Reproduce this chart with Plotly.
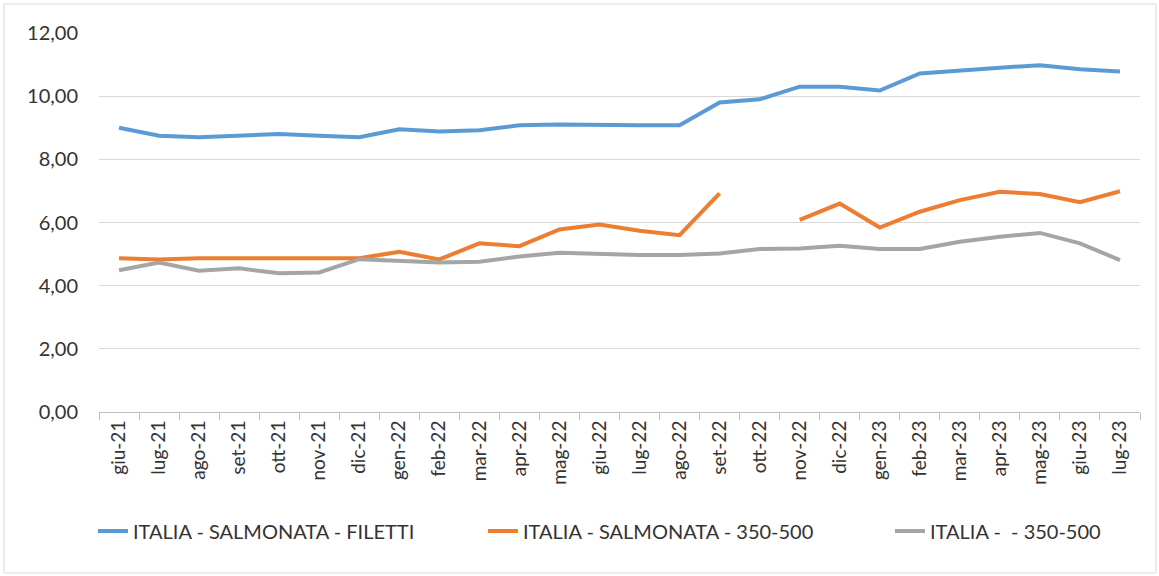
import plotly.graph_objects as go

months = ["giu-21","lug-21","ago-21","set-21","ott-21","nov-21","dic-21","gen-22","feb-22","mar-22",
          "apr-22","mag-22","giu-22","lug-22","ago-22","set-22","ott-22","nov-22","dic-22","gen-23",
          "feb-23","mar-23","apr-23","mag-23","giu-23","lug-23"]

filetti = [9.00, 8.75, 8.70, 8.75, 8.80, 8.75, 8.70, 8.95, 8.88, 8.92,
           9.08, 9.10, 9.08, 9.08, 9.08, 9.80, 9.90, 10.30, 10.30, 10.18,
           10.72, 10.82, 10.90, 10.98, 10.85, 10.78]

salmonata = [4.87, 4.83, 4.87, 4.87, 4.87, 4.84, 4.87, 5.07, 4.83, 5.34,
             5.25, 5.78, 5.94, 5.74, 5.60, 6.92, None, 6.08, 6.60, 5.84,
             6.34, 6.71, 6.97, 6.90, 6.64, 6.99]

trota = [4.49, 4.73, 4.47, 4.55, 4.39, 4.42, 4.84, 4.79, 4.73, 4.76,
         4.92, 5.04, 4.99, 4.97, 4.97, 5.02, 5.16, 5.18, 5.26, 5.16,
         5.16, 5.39, 5.55, 5.67, 5.34, 4.81]

names = ["ITALIA - SALMONATA - FILETTI", "ITALIA - SALMONATA - 350-500", "ITALIA -  - 350-500"]
colors = ["#5b9bd5", "#ed7d31", "#a5a5a5"]

FONT = "Lato, Liberation Sans, Arial, sans-serif"
TXT = "#333333"

fig = go.Figure()
for i, (vals, nm, col) in enumerate(zip([filetti, salmonata, trota], names, colors)):
    fig.add_trace(go.Scatter(
        x=months, y=vals, name=nm, mode="lines",
        line=dict(color=col, width=4),
        connectgaps=False, showlegend=True,
        legend="legend" if i == 0 else f"legend{i+1}",
    ))

leg_common = dict(orientation="h", xref="container", yref="container",
                  yanchor="middle", y=1 - 531 / 576, xanchor="left",
                  font=dict(family=FONT, size=20, color=TXT),
                  bgcolor="rgba(0,0,0,0)", borderwidth=0)

fig.update_layout(
    width=1159, height=576,
    showlegend=True,
    margin=dict(l=99, r=19, t=33, b=164, autoexpand=False),
    paper_bgcolor="white", plot_bgcolor="white",
    font=dict(family=FONT, size=20, color=TXT),
    separators=",.",
    legend=dict(x=(133 - 40) / 1159, **leg_common),
    legend2=dict(x=(523 - 40) / 1159, **leg_common),
    legend3=dict(x=(930 - 40) / 1159, **leg_common),
    xaxis=dict(
        type="category", range=[-0.5, 25.5],
        tickangle=-90, showgrid=False,
        showline=True, linecolor="#bfbfbf", linewidth=1,
        ticks="outside", ticklen=7, tickcolor="#bfbfbf",
        tickson="boundaries",
        tickfont=dict(family=FONT, size=19, color=TXT),
    ),
    yaxis=dict(
        range=[0, 12], dtick=2, tickformat=".2f",
        showgrid=True, gridcolor="#d9d9d9", gridwidth=1,
        zeroline=False, showline=False,
        ticks="", ticklabelstandoff=20,
        tickfont=dict(family=FONT, size=20, color=TXT),
    ),
    shapes=[dict(type="rect", xref="paper", yref="paper",
                 x0=(4 - 99) / 1041, x1=(1156 - 99) / 1041,
                 y0=(412 - 573) / 379, y1=(412 - 4) / 379,
                 line=dict(color="#d9d9d9", width=1))],
)

fig.write_html("out.html", config={"displayModeBar": False},
               post_script="document.body.style.margin='0';document.body.style.padding='0';")
